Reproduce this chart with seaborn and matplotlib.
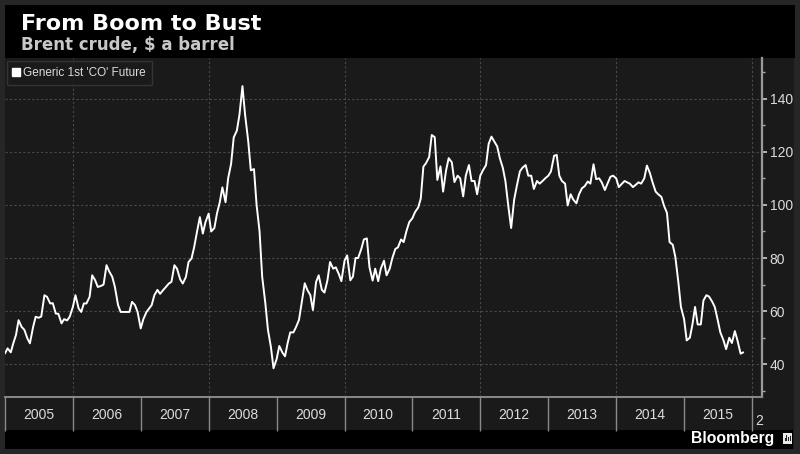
import numpy as np
import pandas as pd
import matplotlib
matplotlib.use("Agg")
import matplotlib.pyplot as plt
import matplotlib.dates as mdates
from matplotlib.patches import Rectangle
from matplotlib.lines import Line2D
import seaborn as sns

# ---- data: Brent crude, $ a barrel, semi-monthly readings (1st and 15th) ----
y2005 = [44.1, 46.0, 44.5, 48.0, 51.0, 56.6, 54.0, 53.0, 49.8, 47.9, 54.0, 57.9,
         57.5, 58.0, 66.0, 65.4, 62.9, 63.0, 59.1, 59.0, 55.4, 57.0, 56.5, 57.9]
y2006 = [61.6, 66.0, 61.0, 59.7, 62.9, 62.9, 65.4, 73.5, 71.6, 69.1, 69.5, 70.0,
         77.3, 75.0, 72.9, 69.1, 62.3, 59.7, 59.7, 59.7, 59.7, 63.5, 62.3, 59.7]
y2007 = [53.5, 57.0, 59.7, 61.0, 62.3, 66.0, 68.0, 66.5, 67.9, 69.0, 70.4, 71.0,
         77.3, 76.0, 72.0, 70.4, 72.9, 78.5, 79.8, 84.0, 90.4, 95.4, 89.2, 93.5]
y2008 = [96.7, 90.0, 91.3, 96.8, 101.0, 106.6, 101.0, 110.0, 115.5, 125.4, 128.0, 134.0,
         144.7, 134.0, 124.0, 113.0, 113.5, 100.0, 90.0, 73.0, 63.0, 53.0, 46.5, 38.5]
y2009 = [42.0, 46.9, 44.4, 43.0, 48.0, 52.0, 52.0, 54.0, 56.7, 63.0, 70.5, 68.0,
         66.0, 60.4, 71.0, 73.5, 68.0, 67.0, 71.6, 78.5, 76.0, 76.5, 74.0, 71.3]
y2010 = [79.0, 81.0, 71.6, 73.0, 80.0, 80.0, 83.4, 87.0, 87.4, 76.6, 71.5, 76.0,
         71.3, 76.0, 79.0, 73.5, 76.0, 80.0, 83.4, 84.0, 87.0, 86.0, 90.4, 93.5]
y2011 = [95.0, 97.3, 99.0, 102.4, 114.4, 115.7, 118.0, 126.3, 125.5, 109.4, 114.5, 105.0,
         113.0, 117.6, 116.0, 108.6, 111.0, 110.0, 103.2, 111.0, 115.0, 109.0, 109.0, 104.0]
y2012 = [111.0, 113.0, 115.0, 123.0, 125.7, 124.0, 122.0, 117.6, 114.0, 109.0, 98.8, 91.3,
         101.9, 107.0, 112.6, 114.0, 115.0, 111.0, 111.0, 106.0, 109.0, 108.0, 109.0, 110.0]
y2013 = [111.0, 112.6, 118.5, 118.8, 111.0, 109.0, 108.0, 99.8, 104.0, 102.0, 100.6, 104.0,
         106.3, 107.0, 108.8, 108.0, 115.3, 109.7, 110.0, 108.5, 105.6, 108.0, 110.6, 111.0]
y2014 = [110.0, 106.7, 108.0, 109.0, 108.5, 108.0, 106.7, 107.5, 108.5, 108.0, 110.0, 114.8,
         112.0, 108.6, 105.0, 104.0, 103.0, 99.7, 97.0, 86.0, 85.0, 80.4, 71.0, 61.6]
y2015 = [57.0, 49.0, 50.0, 55.0, 61.6, 55.0, 55.0, 64.0, 66.0, 65.5, 63.6, 61.6,
         56.6, 52.0, 49.0, 45.7, 50.0, 48.0, 52.5, 49.0, 44.0, 44.5]

prices = y2005 + y2006 + y2007 + y2008 + y2009 + y2010 + y2011 + y2012 + y2013 + y2014 + y2015
dates = pd.date_range("2005-01-01", periods=len(prices), freq="SMS")
df = pd.DataFrame({"date": dates, "price": prices})

year_labels = [str(y) for y in range(2005, 2016)]
y_ticks = [40, 60, 80, 100, 120, 140]
series_name = "Generic 1st 'CO' Future"

# ---- styling ----
W, H = 800, 454
OUTER = "#262626"
PANEL = "#1a1a1a"
TXT = "#dcdcdc"

sns.set_theme(style="dark")
plt.rcParams["font.family"] = ["DejaVu Sans"]

fig = plt.figure(figsize=(W / 100, H / 100), dpi=100, facecolor=OUTER)

def frect(x0, y0, x1, y1, color):
    fig.add_artist(Rectangle((x0 / W, 1 - y1 / H), (x1 - x0) / W, (y1 - y0) / H,
                             transform=fig.transFigure, facecolor=color,
                             edgecolor="none", zorder=-5))

frect(5, 5, 794, 449, PANEL)      # dark panel
frect(5, 5, 795, 58, "#000000")   # title band
frect(5, 430, 793, 449, "#000000")  # footer band

ax_l, ax_r, ax_t, ax_b = 5, 762, 58, 396.7
ax = fig.add_axes([ax_l / W, 1 - ax_b / H, (ax_r - ax_l) / W, (ax_b - ax_t) / H])
ax.set_facecolor(PANEL)

sns.lineplot(data=df, x="date", y="price", ax=ax, color="white", linewidth=1.4,
             legend=False)

ax.set_xlim(pd.Timestamp("2005-01-01"), pd.Timestamp("2016-02-24"))
ax.set_ylim(27.8, 155.3)
ax.set_xlabel("")
ax.set_ylabel("")

# horizontal grid
ax.set_yticks(y_ticks)
ax.set_yticks(list(range(30, 160, 20)), minor=True)
for v in y_ticks:
    ax.axhline(v, color="#4a4a4a", linewidth=0.8, linestyle=(0, (2, 2)), zorder=0.5)
# vertical grid every second year
for yr in range(2006, 2017, 2):
    ax.axvline(pd.Timestamp(f"{yr}-01-01"), color="#4a4a4a", linewidth=0.8,
               linestyle=(0, (2, 2)), zorder=0.5)

# right y axis
ax.yaxis.tick_right()
ax.tick_params(axis="y", which="both", right=True, left=False)
ax.tick_params(axis="y", which="major", direction="out", length=3.5, width=1.2,
               color="#cccccc", labelcolor=TXT, labelsize=10, pad=2)
ax.tick_params(axis="y", which="minor", direction="out", length=2.5, width=1,
               color="#aaaaaa")
for lab in ax.get_yticklabels():
    lab.set_fontfamily("Liberation Sans")

# x axis: year separators as long ticks, year names centered
ax.xaxis.set_major_locator(mdates.YearLocator(1, month=1, day=1))
ax.xaxis.set_major_formatter(plt.NullFormatter())
mids = [pd.Timestamp(f"{y}-07-01") for y in range(2005, 2016)]
ax.set_xticks(mids, minor=True)
ax.set_xticklabels(year_labels, minor=True)
ax.tick_params(axis="x", which="both", bottom=True, top=False)
ax.tick_params(axis="x", which="major", direction="out", length=24.5, width=1,
               color="#8a8a8a")
ax.tick_params(axis="x", which="minor", length=0, labelcolor=TXT, labelsize=10, pad=8)
for lab in ax.get_xticklabels(minor=True):
    lab.set_fontfamily("Liberation Sans")
ax.text(pd.Timestamp("2016-01-20"), -0.05, "2", transform=ax.get_xaxis_transform(),
        ha="left", va="top", color=TXT, fontsize=10, family="Liberation Sans",
        clip_on=False)

for s in ["top", "left"]:
    ax.spines[s].set_visible(False)
ax.spines["right"].set_color("#9a9a9a")
ax.spines["right"].set_linewidth(1.6)
ax.spines["bottom"].set_color("#8a8a8a")
ax.spines["bottom"].set_linewidth(1.4)

# legend
handle = Line2D([], [], marker="s", linestyle="none", color="white", markersize=6)
leg = ax.legend([handle], [series_name], loc="upper left", bbox_to_anchor=(0.0, 0.995),
                frameon=True, fancybox=False, facecolor=PANEL, edgecolor="#3a3a3a",
                fontsize=8.5, handlelength=0.6, handletextpad=0.3, borderpad=0.5,
                borderaxespad=0.15, labelcolor=TXT)
leg.get_frame().set_linewidth(1.0)
for t in leg.get_texts():
    t.set_fontfamily("Liberation Sans")

# titles
fig.text(21 / W, 1 - 30 / H, "From Boom to Bust", color="white", fontsize=16,
         fontweight="bold", ha="left", va="baseline")
fig.text(21 / W, 1 - 50 / H, "Brent crude, $ a barrel", color="#c8c8c8", fontsize=12,
         fontweight="bold", ha="left", va="baseline")

# footer
fig.text(774 / W, 1 - 443.5 / H, "Bloomberg", color="white", fontsize=11.3,
         fontweight="bold", family="Liberation Sans", ha="right", va="baseline")
fig.add_artist(Rectangle((783 / W, 1 - 444 / H), 9 / W, 11 / H, transform=fig.transFigure,
                         facecolor="#e8e8e8", edgecolor="none"))
for i, hgt in enumerate([3, 6, 4, 5]):
    fig.add_artist(Rectangle(((784.5 + i * 1.8) / W, 1 - 441 / H), 1.0 / W, hgt / H,
                             transform=fig.transFigure, facecolor="#222222",
                             edgecolor="none"))

fig.savefig("out.png", dpi=100, facecolor=OUTER)
